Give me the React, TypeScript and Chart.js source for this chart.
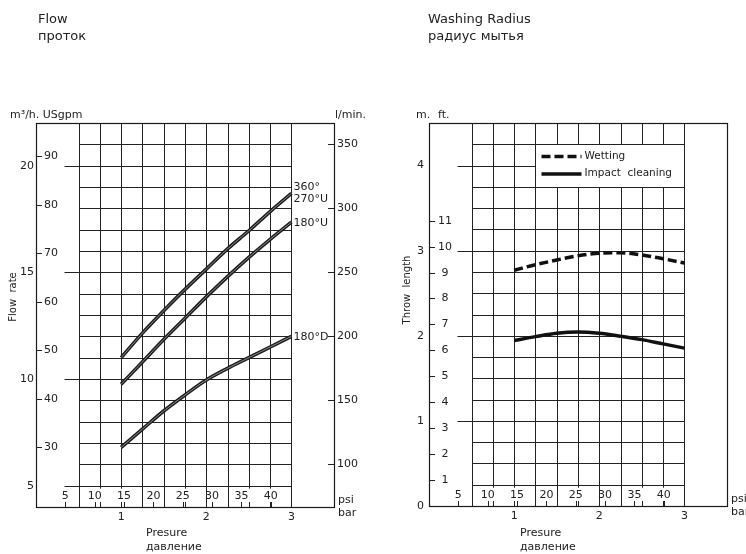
import React, { useEffect, useRef } from "react";
import { Chart, registerables } from "chart.js";

Chart.register(...registerables);

// ---------- data ----------
const pressureBar = [1, 1.25, 1.5, 1.75, 2, 2.25, 2.5, 2.75, 3];
const flow360 = [11.0, 12.15, 13.2, 14.2, 15.15, 16.1, 16.95, 17.85, 18.7];
const flow180U = [9.75, 10.8, 11.85, 12.85, 13.85, 14.8, 15.7, 16.55, 17.35];
const flow180D = [6.8, 7.65, 8.5, 9.25, 9.95, 10.5, 11.0, 11.5, 12.0];
const radiusWetting = [2.77, 2.835, 2.89, 2.94, 2.97, 2.975, 2.95, 2.905, 2.855];
const radiusImpact = [1.945, 1.99, 2.03, 2.045, 2.03, 1.995, 1.955, 1.905, 1.855];

const m3hTicks = [5, 10, 15, 20];
const gpmTicks = [30, 40, 50, 60, 70, 80, 90];
const lminTicks = [100, 150, 200, 250, 300, 350];
const psiTicks = [5, 10, 15, 20, 25, 30, 35, 40];
const barTicks = [1, 2, 3];
const meterTicks = [0, 1, 2, 3, 4];
const feetTicks = [1, 2, 3, 4, 5, 6, 7, 8, 9, 10, 11];
const gridBars = [0.5, 0.75, 1, 1.25, 1.5, 1.75, 2, 2.25, 2.5, 2.75, 3];
const stubBars = [0.75, 1, 1.75, 2.5, 2.75];

const GPM_PER_M3H = 4.40287;
const LMIN_PER_M3H = 16.6667;
const PSI_PER_BAR = 14.5038;
const M_PER_FT = 0.3048;

const FONT = '"DejaVu Sans", sans-serif';
const INK = "#222";

const pts = (ys: number[]) => pressureBar.map((x, i) => ({ x, y: ys[i] }));

function seg(ctx: CanvasRenderingContext2D, x1: number, y1: number, x2: number, y2: number) {
  ctx.beginPath();
  ctx.moveTo(x1, y1);
  ctx.lineTo(x2, y2);
  ctx.stroke();
}
const cr = (v: number) => Math.round(v) + 0.5;

function text(ctx: CanvasRenderingContext2D, s: string, x: number, y: number, align: CanvasTextAlign = "left", size = 11) {
  ctx.font = `${size}px ${FONT}`;
  ctx.fillStyle = INK;
  ctx.textAlign = align;
  ctx.textBaseline = "middle";
  ctx.fillText(s, x, y);
}

function drawPaper(chart: any, yStep: number, majors: number[]) {
  const { ctx, chartArea: a } = chart;
  const xs = chart.scales.x, ys = chart.scales.y;
  const X = (v: number) => xs.getPixelForValue(v);
  const Y = (v: number) => ys.getPixelForValue(v);
  const yMin = ys.min, yMax = ys.max;
  ctx.save();
  ctx.strokeStyle = "#222";
  ctx.lineWidth = 1;
  for (let k = 1; yMin + k * yStep < yMax - 1e-9; k++) {
    const v = yMin + k * yStep;
    const major = majors.some((m) => Math.abs(m - v) < 1e-6);
    seg(ctx, cr(X(major ? 0.33 : 0.5)), cr(Y(v)), cr(X(3)), cr(Y(v)));
  }
  for (const b of gridBars) {
    const stub = stubBars.includes(b);
    seg(ctx, cr(X(b)), cr(Y(yMax)), cr(X(b)), stub ? Y(yMin + yStep) + 3 : Y(yMin));
    seg(ctx, cr(X(b)), Y(yMin), cr(X(b)), Y(yMin) - 5);
  }
  for (const p of psiTicks) {
    const bx = cr(X(p / PSI_PER_BAR));
    seg(ctx, bx, Y(yMin), bx, Y(yMin) - 5);
    text(ctx, String(p), X(p / PSI_PER_BAR), Y(yMin) - 11, "center");
  }
  for (const b of barTicks) text(ctx, String(b), X(b), Y(yMin) + 10, "center");
  text(ctx, "psi", X(3.5) + 4, Y(yMin) - 7);
  text(ctx, "bar", X(3.5) + 4, Y(yMin) + 6);
  ctx.strokeStyle = "#1a1a1a";
  ctx.lineWidth = 1.2;
  ctx.strokeRect(cr(a.left), cr(a.top), Math.round(a.right - a.left), Math.round(a.bottom - a.top));
  ctx.restore();
}

const flowPlugin = {
  id: "flowPaper",
  beforeDatasetsDraw(chart: any) {
    const { ctx } = chart;
    const xs = chart.scales.x, ys = chart.scales.y;
    const X = (v: number) => xs.getPixelForValue(v);
    const Y = (v: number) => ys.getPixelForValue(v);
    drawPaper(chart, 1, m3hTicks);
    ctx.save();
    ctx.strokeStyle = "#222";
    ctx.lineWidth = 1;
    for (const v of m3hTicks) text(ctx, String(v), X(0) - 2, Y(v), "right", 11);
    for (const g of gpmTicks) {
      const y = cr(Y(g / GPM_PER_M3H));
      seg(ctx, X(0), y, X(0) + 6, y);
      text(ctx, String(g), X(0) + 8, y);
    }
    for (const l of lminTicks) {
      const y = cr(Y(l / LMIN_PER_M3H));
      seg(ctx, X(3.5) - 6, y, X(3.5), y);
      text(ctx, String(l), X(3.5) + 3, y);
    }
    text(ctx, "m³/h. USgpm", 10, 115);
    text(ctx, "l/min.", X(3.5) + 1, 115);
    text(ctx, "Presure", 146, 533);
    text(ctx, "давление", 146, 547);
    ctx.save();
    ctx.translate(13, 297);
    ctx.rotate(-Math.PI / 2);
    text(ctx, "Flow  rate", 0, 0, "center", 10);
    ctx.restore();
    text(ctx, "Flow", 38, 20, "left", 13);
    text(ctx, "проток", 38, 37, "left", 13);
    ctx.restore();
  },
  afterDatasetsDraw(chart: any) {
    const { ctx } = chart;
    const xs = chart.scales.x, ys = chart.scales.y;
    const X = (v: number) => xs.getPixelForValue(v);
    const Y = (v: number) => ys.getPixelForValue(v);
    const last = (a: number[]) => a[a.length - 1];
    text(ctx, "360°", X(3) + 2, Y(last(flow360)) - 6);
    text(ctx, "270°U", X(3) + 2, Y(last(flow360)) + 6);
    text(ctx, "180°U", X(3) + 2, Y(last(flow180U)) + 1);
    text(ctx, "180°D", X(3) + 2, Y(last(flow180D)) + 1);
  },
};

const radiusPlugin = {
  id: "radiusPaper",
  beforeDatasetsDraw(chart: any) {
    const { ctx } = chart;
    const xs = chart.scales.x, ys = chart.scales.y;
    const X = (v: number) => xs.getPixelForValue(v);
    const Y = (v: number) => ys.getPixelForValue(v);
    drawPaper(chart, 0.25, [1, 2, 3, 4]);
    ctx.save();
    ctx.strokeStyle = "#222";
    ctx.lineWidth = 1;
    for (const v of meterTicks) text(ctx, String(v), X(0) - 5, Y(v), "right", 11);
    for (const f of feetTicks) {
      const y = cr(Y(f * M_PER_FT));
      seg(ctx, X(0), y, X(0) + 6, y);
      text(ctx, String(f), X(0) + 16, y, "center");
    }
    text(ctx, "m.", 43, 115);
    text(ctx, "ft.", 65, 115);
    text(ctx, "Presure", 147, 533);
    text(ctx, "давление", 147, 547);
    ctx.save();
    ctx.translate(34, 290);
    ctx.rotate(-Math.PI / 2);
    text(ctx, "Throw  length", 0, 0, "center", 10);
    ctx.restore();
    text(ctx, "Washing Radius", 55, 20, "left", 13);
    text(ctx, "радиус мытья", 55, 37, "left", 13);
    // legend box
    const lx = cr(X(1.25)), ly = cr(Y(4.25));
    const rw = Math.round(X(3) - X(1.25)), rh = Math.round(Y(3.75) - Y(4.25));
    ctx.fillStyle = "#fff";
    ctx.fillRect(lx, ly, rw, rh);
    ctx.strokeRect(lx, ly, rw, rh);
    ctx.strokeStyle = "#111";
    ctx.lineWidth = 3.5;
    ctx.setLineDash([9, 4]);
    seg(ctx, lx + 6, ly + 12, lx + 46, ly + 12);
    ctx.setLineDash([]);
    seg(ctx, lx + 6, ly + 29.5, lx + 46, ly + 29.5);
    text(ctx, "Wetting", lx + 49, ly + 11.5, "left", 10.5);
    text(ctx, "Impact  cleaning", lx + 49, ly + 29, "left", 10.5);
    ctx.restore();
  },
};

function makeChart(canvas: HTMLCanvasElement, cfg: any) {
  return new Chart(canvas, {
    type: "line",
    data: { datasets: cfg.datasets },
    options: {
      animation: false,
      responsive: false,
      events: [],
      layout: { padding: cfg.padding },
      elements: { point: { radius: 0 }, line: { cubicInterpolationMode: "monotone" } },
      scales: {
        x: { type: "linear", min: 0, max: 3.5, display: false },
        y: { type: "linear", min: cfg.yMin, max: cfg.yMax, display: false },
      },
      plugins: { legend: { display: false }, tooltip: { enabled: false } },
    },
    plugins: [cfg.plugin],
  } as any);
}

export default function App() {
  const leftRef = useRef<HTMLCanvasElement>(null);
  const rightRef = useRef<HTMLCanvasElement>(null);
  useEffect(() => {
    // lower index is drawn on top in Chart.js, so the light cores come first
    const outer = (ys: number[]) => ({ data: pts(ys), borderColor: "#1c1c1c", borderWidth: 3.6, fill: false });
    const inner = (ys: number[]) => ({ data: pts(ys), borderColor: "#8c8c8c", borderWidth: 1, fill: false });
    const left = makeChart(leftRef.current!, {
      padding: { left: 36, right: 39, top: 123, bottom: 47 },
      yMin: 4,
      yMax: 22,
      plugin: flowPlugin,
      datasets: [inner(flow360), inner(flow180U), inner(flow180D), outer(flow360), outer(flow180U), outer(flow180D)],
    });
    const right = makeChart(rightRef.current!, {
      padding: { left: 56, right: 19, top: 123, bottom: 48 },
      yMin: 0,
      yMax: 4.5,
      plugin: radiusPlugin,
      datasets: [
        { label: "Wetting", data: pts(radiusWetting), borderColor: "#111", borderWidth: 3.5, borderDash: [9, 4], fill: false },
        { label: "Impact cleaning", data: pts(radiusImpact), borderColor: "#111", borderWidth: 3.5, fill: false },
      ],
    });
    return () => {
      left.destroy();
      right.destroy();
    };
  }, []);
  return (
    <div style={{ position: "absolute", left: 0, top: 0, width: 746, height: 554, background: "#fff" }}>
      <canvas ref={leftRef} width={373} height={554} style={{ position: "absolute", left: 0, top: 0, width: 373, height: 554 }} />
      <canvas ref={rightRef} width={373} height={554} style={{ position: "absolute", left: 373, top: 0, width: 373, height: 554 }} />
    </div>
  );
}
